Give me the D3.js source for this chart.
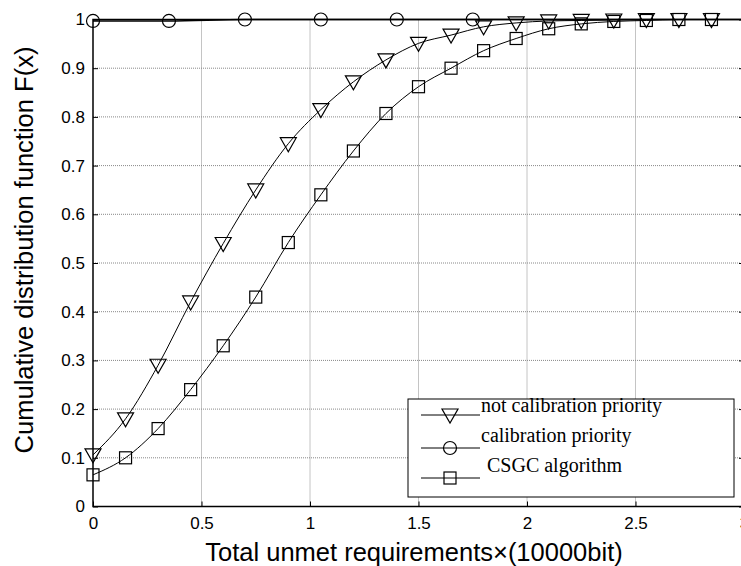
<!DOCTYPE html>
<html>
<head>
<meta charset="utf-8">
<script src="https://cdn.jsdelivr.net/npm/d3@7"></script>
<style>
  body { margin: 0; background: #fff; }
  svg { display: block; }
</style>
</head>
<body>
<div class="chart"></div>
<script>
// data
const xSteps = [0, 0.15, 0.3, 0.45, 0.6, 0.75, 0.9, 1.05, 1.2, 1.35, 1.5, 1.65, 1.8, 1.95, 2.1, 2.25, 2.4, 2.55, 2.7, 2.85]
const notCalib = [0.106, 0.18, 0.29, 0.42, 0.54, 0.65, 0.745, 0.815, 0.872, 0.917, 0.951, 0.968, 0.985, 0.993, 0.997, 0.998, 0.999, 1, 1, 1]
const csgc = [0.065, 0.10, 0.16, 0.24, 0.33, 0.43, 0.542, 0.64, 0.73, 0.807, 0.862, 0.90, 0.936, 0.961, 0.981, 0.991, 0.996, 0.998, 1, 1]
const calibX = [0, 0.35, 0.7, 1.05, 1.4, 1.75]
const calib = [0.997, 0.997, 1, 1, 1, 1]
const xTicks = [0, 0.5, 1, 1.5, 2, 2.5, 3]
const yTicks = [0, 0.1, 0.2, 0.3, 0.4, 0.5, 0.6, 0.7, 0.8, 0.9, 1]
const legendNames = ['not calibration priority', 'calibration priority', 'CSGC algorithm']

const W = 741, H = 566
const pLeft = 93, pRight = 744, pTop = 19.5, pBottom = 506.5

const x = d3.scaleLinear().domain([0, 3]).range([pLeft, pRight])
const y = d3.scaleLinear().domain([0, 1]).range([pBottom, pTop])

const svg = d3.select('.chart').append('svg')
  .attr('width', W).attr('height', H)

// grid
const grid = svg.append('g')
grid.selectAll('.gx').data(xTicks.slice(1, -1)).enter()
  .append('line')
  .attr('x1', d => x(d)).attr('x2', d => x(d))
  .attr('y1', pTop).attr('y2', pBottom)
  .attr('stroke', '#888').attr('stroke-width', 1).attr('stroke-dasharray', '1,1')
grid.selectAll('.gy').data(yTicks.slice(1, -1)).enter()
  .append('line')
  .attr('x1', pLeft).attr('x2', pRight)
  .attr('y1', d => y(d)).attr('y2', d => y(d))
  .attr('stroke', '#888').attr('stroke-width', 1).attr('stroke-dasharray', '1,1')

// axes (ticks inward)
svg.append('g')
  .attr('transform', `translate(0,${pBottom})`)
  .call(d3.axisBottom(x).tickValues(xTicks).tickSize(-5).tickPadding(10).tickFormat(d3.format('')))
  .call(g => g.select('.domain').remove())
svg.append('g')
  .attr('transform', `translate(${pLeft},0)`)
  .call(d3.axisLeft(y).tickValues(yTicks).tickSize(-5).tickPadding(8).tickFormat(d3.format('')))
  .call(g => g.select('.domain').remove())
svg.append('g')
  .attr('transform', `translate(${pRight},0)`)
  .call(d3.axisRight(y).tickValues(yTicks).tickSize(-5).tickFormat(''))
  .call(g => g.select('.domain').remove())

svg.selectAll('.tick text')
  .attr('font-family', 'Liberation Sans, Arial, sans-serif')
  .attr('font-size', 17)
  .attr('fill', '#000')
svg.selectAll('.tick line').attr('stroke', '#000')

// box
svg.append('rect')
  .attr('x', pLeft).attr('y', pTop)
  .attr('width', pRight - pLeft).attr('height', pBottom - pTop)
  .attr('fill', 'none').attr('stroke', '#000').attr('stroke-width', 1.5)

const line = d3.line()
  .x(d => x(d[0])).y(d => y(d[1]))
  .curve(d3.curveMonotoneX)

const triPts = xSteps.map((v, i) => [v, notCalib[i]])
const sqPts = xSteps.map((v, i) => [v, csgc[i]])
const cPts = calibX.map((v, i) => [v, calib[i]])

const lines = svg.append('g').attr('fill', 'none').attr('stroke', '#000')
lines.append('path').attr('d', line(triPts)).attr('stroke-width', 1)
lines.append('path').attr('d', line(sqPts)).attr('stroke-width', 1)
lines.append('path').attr('d', line(cPts.concat([[3, 1]]))).attr('stroke-width', 1.5)

function triangle(g, cx, cy) {
  g.append('path')
    .attr('d', `M${cx - 8},${cy - 6}L${cx + 8},${cy - 6}L${cx},${cy + 8}Z`)
    .attr('fill', 'none').attr('stroke', '#000').attr('stroke-width', 1.2)
}
function square(g, cx, cy) {
  g.append('rect')
    .attr('x', cx - 6).attr('y', cy - 6).attr('width', 12).attr('height', 12)
    .attr('fill', 'none').attr('stroke', '#000').attr('stroke-width', 1.2)
}
function circle(g, cx, cy) {
  g.append('circle')
    .attr('cx', cx).attr('cy', cy).attr('r', 6.5)
    .attr('fill', 'none').attr('stroke', '#000').attr('stroke-width', 1.2)
}

const marks = svg.append('g')
cPts.forEach(d => circle(marks, x(d[0]), y(d[1])))
sqPts.forEach(d => square(marks, x(d[0]), y(d[1])))
triPts.forEach(d => triangle(marks, x(d[0]), y(d[1])))

// legend
const lg = svg.append('g')
lg.append('rect')
  .attr('x', 408).attr('y', 399).attr('width', 326).attr('height', 98)
  .attr('fill', '#fff').attr('stroke', '#000').attr('stroke-width', 1)
const legendY = [415, 448, 478]
const legendTextY = [412, 442, 472]
const legendMark = [triangle, circle, square]
legendNames.forEach((name, i) => {
  lg.append('line')
    .attr('x1', 421).attr('x2', 480)
    .attr('y1', legendY[i]).attr('y2', legendY[i])
    .attr('stroke', '#000')
  legendMark[i](lg, 450, legendY[i])
  lg.append('text')
    .attr('x', i == 2 ? 487 : 481).attr('y', legendTextY[i])
    .attr('font-family', 'Liberation Serif, Times New Roman, serif')
    .attr('font-size', 20)
    .text(name)
})

// titles
svg.append('text')
  .attr('x', 414).attr('y', 561)
  .attr('text-anchor', 'middle')
  .attr('font-family', 'Liberation Sans, Arial, sans-serif')
  .attr('font-size', 25.5)
  .text('Total unmet requirements×(10000bit)')
svg.append('text')
  .attr('transform', 'translate(33,250) rotate(-90)')
  .attr('text-anchor', 'middle')
  .attr('font-family', 'Liberation Sans, Arial, sans-serif')
  .attr('font-size', 25.5)
  .text('Cumulative distribution function F(x)')
</script>
</body>
</html>
